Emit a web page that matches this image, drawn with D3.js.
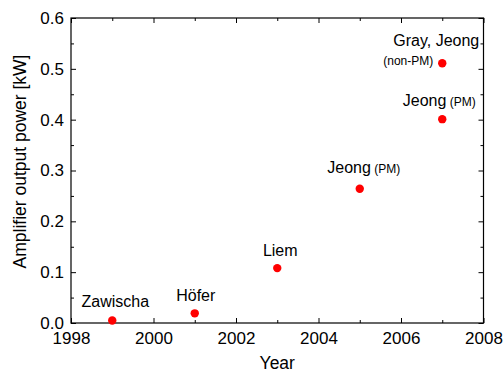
<!DOCTYPE html>
<html>
<head>
<meta charset="utf-8">
<script src="https://cdn.jsdelivr.net/npm/d3@7"></script>
<style>
  html, body { margin: 0; padding: 0; background: #fff; }
  svg { display: block; font-family: "Liberation Sans", Arial, sans-serif; }
</style>
</head>
<body>
<svg id="chart" width="503" height="374"></svg>
<script>
// Amplifier output power by year
const years   = [1999, 2001, 2003, 2005, 2007, 2007];
const powerKW = [0.005, 0.019, 0.108, 0.264, 0.401, 0.511];
const names   = ["Zawischa", "Höfer", "Liem", "Jeong", "Jeong", "Gray, Jeong"];
const notes   = ["", "", "", "(PM)", "(PM)", "(non-PM)"];

const xTicks = [1998, 2000, 2002, 2004, 2006, 2008];
const yTicks = [0.0, 0.1, 0.2, 0.3, 0.4, 0.5, 0.6];
const xMinorTicks = [1999, 2001, 2003, 2005, 2007];
const yMinorTicks = [0.05, 0.15, 0.25, 0.35, 0.45, 0.55];

const W = 503, H = 374;
const m = { left: 71, right: 19.5, top: 18, bottom: 51 };
const svg = d3.select("#chart");

const x = d3.scaleLinear().domain([1998, 2008]).range([m.left, W - m.right]);
const y = d3.scaleLinear().domain([0, 0.6]).range([H - m.bottom, m.top]);

const x0 = x.range()[0], x1 = x.range()[1];
const y0 = y.range()[0], y1 = y.range()[1];

const g = svg.append("g");

// Bottom axis (labels)
const axB = g.append("g").attr("transform", `translate(0,${y0})`);
axB.call(d3.axisBottom(x).tickValues(xTicks).tickSize(-5).tickPadding(9).tickFormat(d3.format("d")));
axB.append("g").call(d3.axisBottom(x).tickValues(xMinorTicks).tickSize(-3).tickFormat(""));

// Top axis (ticks only)
const axT = g.append("g").attr("transform", `translate(0,${y1})`);
axT.call(d3.axisTop(x).tickValues(xTicks).tickSize(-5).tickFormat(""));
axT.append("g").call(d3.axisTop(x).tickValues(xMinorTicks).tickSize(-3).tickFormat(""));

// Left axis (labels)
const axL = g.append("g").attr("transform", `translate(${x0},0)`);
axL.call(d3.axisLeft(y).tickValues(yTicks).tickSize(-5).tickPadding(7).tickFormat(d3.format(".1f")));
axL.append("g").call(d3.axisLeft(y).tickValues(yMinorTicks).tickSize(-3).tickFormat(""));

// Right axis (ticks only)
const axR = g.append("g").attr("transform", `translate(${x1},0)`);
axR.call(d3.axisRight(y).tickValues(yTicks).tickSize(-5).tickFormat(""));
axR.append("g").call(d3.axisRight(y).tickValues(yMinorTicks).tickSize(-3).tickFormat(""));

g.selectAll(".domain").remove();
g.selectAll(".tick line").attr("stroke", "#000").attr("stroke-width", 1);
g.selectAll(".tick text").attr("fill", "#000").style("font-size", "17px")
  .style("font-family", '"Liberation Sans", Arial, sans-serif');

// Frame
g.append("rect")
  .attr("x", x0).attr("y", y1)
  .attr("width", x1 - x0).attr("height", y0 - y1)
  .attr("fill", "none").attr("stroke", "#000").attr("stroke-width", 1.2);

// Axis titles
svg.append("text")
  .attr("x", x(2003)).attr("y", 369)
  .attr("text-anchor", "middle")
  .style("font-size", "17.5px")
  .text("Year");

svg.append("text")
  .attr("transform", `translate(26,${(y0 + y1) / 2 - 9}) rotate(-90)`)
  .attr("text-anchor", "middle")
  .style("font-size", "17.5px")
  .text("Amplifier output power [kW]");

// Points
const data = years.map((yr, i) => ({ yr, p: powerKW[i], name: names[i], note: notes[i] }));

svg.append("g").selectAll("circle").data(data).join("circle")
  .attr("cx", d => x(d.yr))
  .attr("cy", d => y(d.p))
  .attr("r", 4.2)
  .attr("fill", "#ff0000");

// Point labels (offsets relative to each point)
const labelPos = [
  { dx: 3,   dy: -13 },  // Zawischa
  { dx: 1,   dy: -12 },  // Höfer
  { dx: 3,   dy: -12 },  // Liem
  { dx: 4,   dy: -16 },  // Jeong (PM) 2005
  { dx: -3,  dy: -13 },  // Jeong (PM) 2007
  { dx: -6,  dy: -17 }   // Gray, Jeong
];

const labels = svg.append("g").selectAll("text").data(data).join("text")
  .attr("x", (d, i) => x(d.yr) + labelPos[i].dx)
  .attr("y", (d, i) => y(d.p) + labelPos[i].dy)
  .attr("text-anchor", "middle")
  .style("font-size", "16px");

labels.each(function (d, i) {
  const t = d3.select(this);
  t.append("tspan").text(d.name);
  if (d.note && i !== 5) {
    t.append("tspan").style("font-size", "12px").text(" " + d.note);
  }
});

// The non-PM note sits on its own line left of the point
const gj = data[5];
svg.append("text")
  .attr("x", x(gj.yr) - 9)
  .attr("y", y(gj.p) + 2)
  .attr("text-anchor", "end")
  .style("font-size", "12px")
  .text(gj.note);
</script>
</body>
</html>
